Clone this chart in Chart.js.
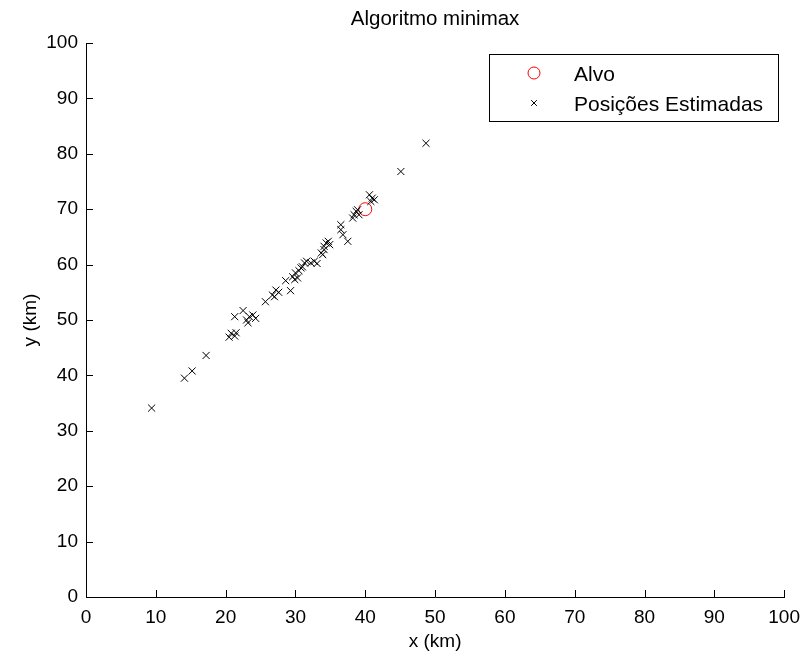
<!DOCTYPE html>
<html>
<head>
<meta charset="utf-8">
<script src="https://cdn.jsdelivr.net/npm/chart.js@4"></script>
<style>
html,body{margin:0;padding:0;background:#fff;}
#wrap{width:809px;height:659px;}
</style>
</head>
<body>
<div id="wrap"><canvas id="c" width="809" height="659"></canvas></div>
<script>
const chartTitle = 'Algoritmo minimax';
const xLabel = 'x (km)';
const yLabel = 'y (km)';
const xTicks = [0,10,20,30,40,50,60,70,80,90,100];
const yTicks = [0,10,20,30,40,50,60,70,80,90,100];
const targetLabel = 'Alvo';
const targetX = [40];
const targetY = [70];
const estLabel = 'Posições Estimadas';
const estX = [9.4,14.1,15.2,17.2,20.5,20.8,21.3,21.5,21.3,22.5,23.0,23.4,23.9,23.2,24.3,25.7,26.7,27.2,27.0,27.6,28.6,29.3,29.6,30.0,30.3,29.9,30.5,30.8,31.0,31.3,31.6,32.2,32.7,33.1,33.7,33.9,34.1,34.4,34.7,34.9,34.1,36.5,36.5,36.8,37.5,38.2,38.4,38.7,38.9,39.1,40.6,41.0,41.3,40.8,45.1,48.7];
const estY = [34.1,39.5,40.8,43.6,46.9,47.6,47.1,47.7,50.6,51.7,50.0,50.6,50.9,49.5,50.3,53.3,54.5,55.4,54.2,55.0,57.1,55.3,57.8,58.5,57.6,57.3,58.9,59.4,59.6,60.3,60.6,60.3,60.6,60.2,62.1,61.8,62.7,63.9,64.2,63.6,63.3,66.3,67.2,65.4,64.2,68.4,69.0,69.6,69.9,69.0,72.6,72.0,71.7,71.4,76.8,81.9];

const FONT = "'Liberation Sans', Arial, Helvetica, sans-serif";
Chart.defaults.color = '#000';
Chart.defaults.font.family = FONT;

const toPts = (xs, ys) => xs.map((x, i) => ({x: x, y: ys[i]}));

const titlePlugin = {
  id: 'centeredTitle',
  afterDraw(chart) {
    const ctx = chart.ctx, a = chart.chartArea;
    ctx.save();
    ctx.font = "20.5px " + FONT;
    ctx.fillStyle = '#000';
    ctx.textAlign = 'center';
    ctx.textBaseline = 'middle';
    ctx.fillText(chartTitle, (a.left + a.right) / 2, 19);
    ctx.restore();
  }
};

const inwardTicks = {
  id: 'inwardTicks',
  afterDatasetsDraw(chart) {
    const ctx = chart.ctx;
    const xs = chart.scales.x, ys = chart.scales.y;
    const a = chart.chartArea;
    ctx.save();
    ctx.strokeStyle = '#000';
    ctx.lineWidth = 1;
    ctx.beginPath();
    xTicks.forEach(v => {
      const px = Math.round(xs.getPixelForValue(v)) + 0.5;
      ctx.moveTo(px, a.bottom); ctx.lineTo(px, a.bottom - 7);
    });
    yTicks.forEach(v => {
      const py = Math.round(ys.getPixelForValue(v)) + 0.5;
      ctx.moveTo(a.left, py); ctx.lineTo(a.left + 7, py);
    });
    ctx.stroke();
    ctx.restore();
  }
};

const boxLegend = {
  id: 'boxLegend',
  afterDraw(chart) {
    const ctx = chart.ctx;
    const L = 489.5, T = 54.5, W = 289, H = 67;
    ctx.save();
    ctx.fillStyle = '#fff';
    ctx.fillRect(L, T, W, H);
    ctx.strokeStyle = '#000';
    ctx.lineWidth = 1;
    ctx.strokeRect(L, T, W, H);
    ctx.font = "21px " + FONT;
    ctx.textBaseline = 'middle';
    ctx.textAlign = 'left';
    const rows = [73, 103];
    chart.data.datasets.forEach((ds, i) => {
      const y = rows[i];
      ctx.strokeStyle = ds.borderColor;
      ctx.fillStyle = 'rgba(0,0,0,0)';
      ctx.lineWidth = 1;
      Chart.helpers.drawPoint(ctx, {pointStyle: ds.pointStyle, radius: ds.pointStyle === 'circle' ? 6 : 4, borderWidth: 1}, 534, y);
      ctx.fillStyle = '#000';
      ctx.fillText(ds.label, 574, y + 2);
    });
    ctx.restore();
  }
};

new Chart(document.getElementById('c'), {
  type: 'scatter',
  data: {
    datasets: [
      {label: targetLabel, data: toPts(targetX, targetY), pointStyle: 'circle', pointRadius: 6.5, pointBorderWidth: 1,
       borderColor: '#ff0000', backgroundColor: 'rgba(0,0,0,0)', pointBackgroundColor: 'rgba(0,0,0,0)', order: 2},
      {label: estLabel, data: toPts(estX, estY), pointStyle: 'crossRot', pointRadius: 5, pointBorderWidth: 1,
       borderColor: '#000', pointBorderColor: '#000', backgroundColor: '#000', order: 1}
    ]
  },
  options: {
    responsive: false,
    animation: false,
    devicePixelRatio: 1,
    layout: {padding: {left: 0, right: 23, top: 43, bottom: 0}},
    plugins: {
      legend: {display: false},
      tooltip: {enabled: false},
      title: {display: false}
    },
    scales: {
      x: {
        type: 'linear', min: 0, max: 100,
        afterBuildTicks(s) { s.ticks = xTicks.map(v => ({value: v})); },
        afterFit(s) { s.height = 62; },
        grid: {drawOnChartArea: false, drawTicks: false},
        border: {display: true, color: '#000', width: 1},
        ticks: {font: {size: 19, family: FONT}, color: '#000', padding: 9, maxRotation: 0, autoSkip: false},
        title: {display: true, text: xLabel, font: {size: 19, family: FONT}, color: '#000', padding: {top: 0, bottom: 6}}
      },
      y: {
        type: 'linear', min: 0, max: 100,
        afterBuildTicks(s) { s.ticks = yTicks.map(v => ({value: v})); },
        afterFit(s) { s.width = 86; },
        grid: {drawOnChartArea: false, drawTicks: false},
        border: {display: true, color: '#000', width: 1},
        ticks: {font: {size: 19, family: FONT}, color: '#000', padding: 8, autoSkip: false},
        title: {display: true, text: yLabel, font: {size: 19, family: FONT}, color: '#000', padding: {top: 19, bottom: 0}}
      }
    }
  },
  plugins: [inwardTicks, boxLegend, titlePlugin]
});
</script>
</body>
</html>
